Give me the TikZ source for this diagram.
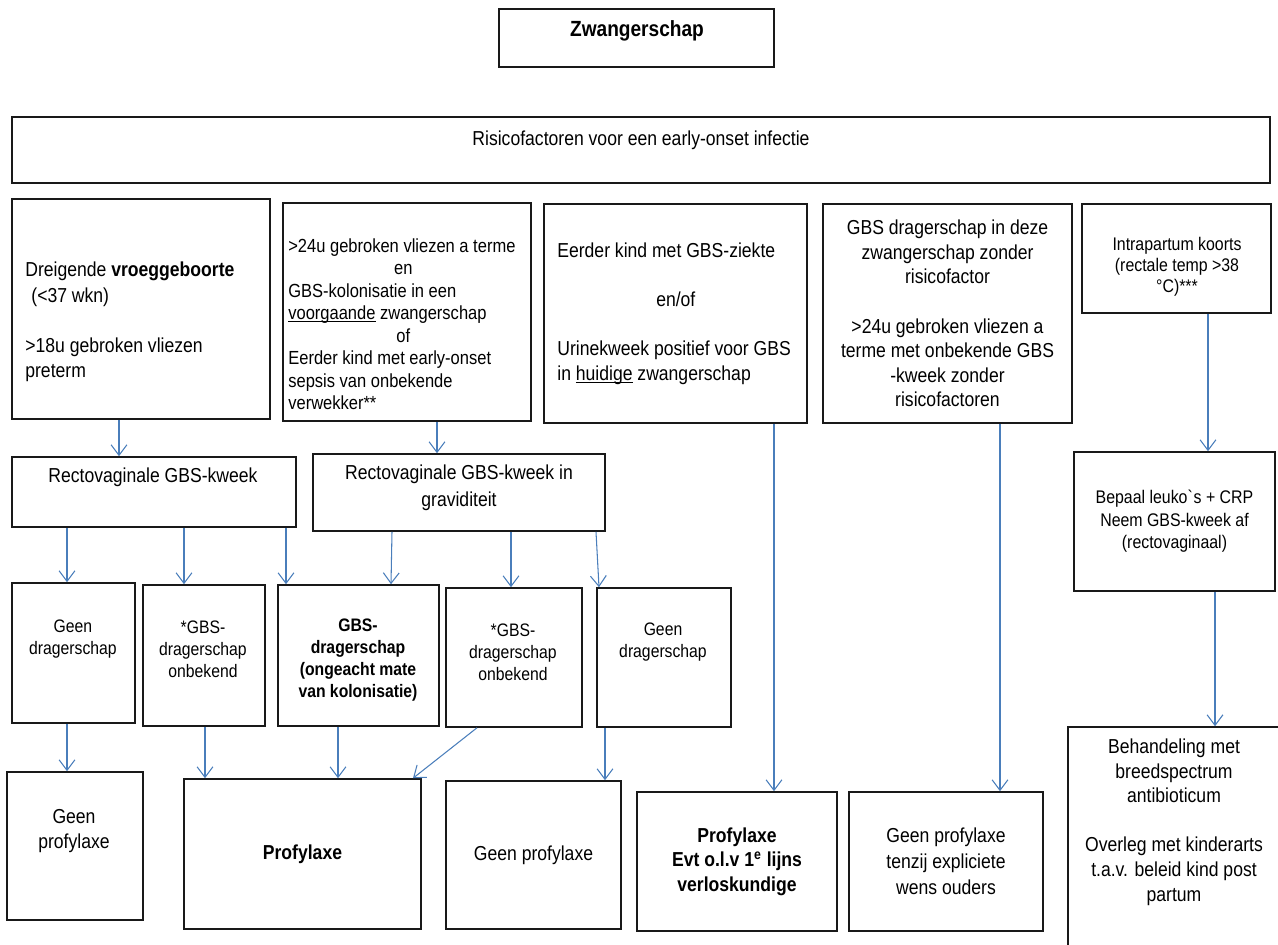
\documentclass[tikz,border=0pt]{standalone}
\usepackage{fontspec}
\setmainfont{Liberation Sans}[FakeStretch=0.87]
\usepackage{tikz}
\usetikzlibrary{arrows.meta}
\usetikzlibrary{positioning}
\definecolor{flowblue}{RGB}{74,126,187}
\tikzstyle{box}=[draw=black!90,line width=0.9pt,inner sep=0pt,align=center]
\tikzstyle{lbl}=[inner sep=0pt,align=center]
\tikzstyle{flow}=[draw=flowblue,line width=0.6pt,-{Straight Barb[length=6pt,width=9pt]}]
\newcommand{\fsz}[2]{\fontsize{#1}{#2}\selectfont}
\newcommand{\wordline}[1]{\setbox0\hbox{#1}\rlap{\rule[-1.6pt]{\wd0}{0.5pt}}#1}

\begin{document}
\begin{tikzpicture}[x=0.02cm,y=-0.02cm,font=\fsz{11.5}{14}]
\useasboundingbox (0,0) rectangle (1278,945);
\clip (0,0) rectangle (1278,945);

% kop
\node[box,minimum width=5.5cm,minimum height=1.16cm] (zw) at (636.5,38) {};
\node[lbl,font=\fsz{12.5}{15}\bfseries] (zwtxt) at (637,31) {Zwangerschap};
\node[box,minimum width=25.16cm,minimum height=1.32cm] (risk) at (641,150) {};
\node[lbl] (risktxt) at (641,140) {Risicofactoren voor een early-onset infectie};

% risicofactoren
\node[box,minimum width=5.16cm,minimum height=4.4cm] (A) at (141,309) {};
\node[lbl,align=left,anchor=west,font=\fsz{11.5}{14.5}] (Atxt) at (25,322)
  {Dreigende \textbf{vroeggeboorte}\\\hspace*{0.3em}(<37 wkn)\\[14pt]>18u gebroken vliezen\\preterm};
\node[box,minimum width=4.96cm,minimum height=4.36cm] (B) at (407,312) {};
\node[lbl,align=left,anchor=west,font=\fsz{10.8}{12.8}] (Btxt) at (288,324)
  {>24u gebroken vliezen a terme\\\makebox[4.6cm]{en}\\GBS-kolonisatie in een\\
   \wordline{voorgaande} zwangerschap\\\makebox[4.6cm]{of}\\Eerder kind met early-onset\\
   sepsis van onbekende\\verwekker**};
\node[box,minimum width=5.26cm,minimum height=4.38cm] (C) at (675.5,313.5) {};
\node[lbl,align=left,anchor=west] (Ctxt) at (557,313.5)
  {Eerder kind met GBS-ziekte\\[14pt]\makebox[4.74cm]{en/of}\\[14pt]Urinekweek positief voor GBS\\
   in \wordline{huidige} zwangerschap};
\node[box,minimum width=4.98cm,minimum height=4.38cm] (D) at (947.5,313.5)
  {GBS dragerschap in deze\\zwangerschap zonder\\risicofactor\\[14pt]>24u gebroken vliezen a\\
   terme met onbekende GBS\\-kweek zonder\\risicofactoren};
\node[box,minimum width=3.78cm,minimum height=2.18cm] (E) at (1176.5,258.5) {};
\node[lbl,font=\fsz{10.4}{11.8}] (Etxt) at (1177,267) {Intrapartum koorts\\(rectale temp >38\\°C)***};

% kweek
\node[box,minimum width=5.68cm,minimum height=1.4cm] (R1) at (154,492) {};
\node[lbl] (R1txt) at (153,477) {Rectovaginale GBS-kweek};
\node[box,minimum width=5.84cm,minimum height=1.54cm] (R2) at (459,492.5) {};
\node[lbl,font=\fsz{11.5}{15.3}] (R2txt) at (459,488) {Rectovaginale GBS-kweek in\\graviditeit};
\node[box,minimum width=4.02cm,minimum height=2.78cm,font=\fsz{10.4}{12.8}] (F) at (1174.5,521.5)
  {Bepaal leuko\textasciigrave s + CRP\\Neem GBS-kweek af\\(rectovaginaal)};

% dragerschap
\node[box,minimum width=2.46cm,minimum height=2.8cm] (K1) at (73.5,653) {};
\node[lbl,font=\fsz{10.3}{12.5}] (K1txt) at (73,639) {Geen\\dragerschap};
\node[box,minimum width=2.44cm,minimum height=2.82cm] (K2) at (204,655.5) {};
\node[lbl,font=\fsz{10.3}{12.5}] (K2txt) at (203,649) {*GBS-\\dragerschap\\onbekend};
\node[box,minimum width=3.22cm,minimum height=2.82cm] (K3) at (358.5,655.5) {};
\node[lbl,font=\fsz{10.3}{12.5}\bfseries] (K3txt) at (358,660) {GBS-\\dragerschap\\(ongeacht mate\\van kolonisatie)};
\node[box,minimum width=2.72cm,minimum height=2.78cm] (K4) at (514,657.5) {};
\node[lbl,font=\fsz{10.3}{12.5}] (K4txt) at (513,652) {*GBS-\\dragerschap\\onbekend};
\node[box,minimum width=2.68cm,minimum height=2.78cm] (K5) at (664,657.5) {};
\node[lbl,font=\fsz{10.3}{12.5}] (K5txt) at (663,642) {Geen\\dragerschap};

% beleid
\node[box,minimum width=2.72cm,minimum height=2.96cm] (P1) at (75,846) {};
\node[lbl] (P1txt) at (74,831) {Geen\\profylaxe};
\node[box,minimum width=4.74cm,minimum height=3cm,font=\fsz{11.5}{14}\bfseries] (P2) at (302.5,854) {Profylaxe};
\node[box,minimum width=3.5cm,minimum height=2.96cm] (P3) at (533.5,855) {Geen profylaxe};
\node[box,minimum width=4cm,minimum height=2.78cm,font=\fsz{11.5}{14}\bfseries] (P4) at (737,861.5)
  {Profylaxe\\Evt o.l.v 1\textsuperscript{e} lijns\\verloskundige};
\node[box,minimum width=3.88cm,minimum height=2.78cm,font=\fsz{11.5}{14.7}] (P5) at (946,861.5)
  {Geen profylaxe\\tenzij expliciete\\wens ouders};
\node[box,minimum width=4.24cm,minimum height=4.76cm] (G) at (1174,846) {};
\node[lbl] (Gtxt) at (1174,822) {Behandeling met\\breedspectrum\\antibioticum\\[14pt]Overleg met kinderarts\\
  t.a.v. beleid kind post\\partum};

% pijlen
\draw[flow] (A.south -| 119,0) -- (R1.north -| 119,0);
\draw[flow] (B.south -| 437,0) -- (R2.north -| 437,0);
\draw[flow] (R1.south -| 67,0) -- (K1.north -| 67,0);
\draw[flow] (R1.south -| 184,0) -- (K2.north -| 184,0);
\draw[flow] (R1.south -| 286,0) -- (K3.north -| 286,0);
\draw[flow] (R2.south -| 392,0) -- (K3.north -| 391,0);
\draw[flow] (R2.south -| 511,0) -- (K4.north -| 511,0);
\draw[flow] (R2.south -| 596,0) -- (K5.north -| 599,0);
\draw[flow] (C.south -| 774,0) -- (P4.north -| 774,0);
\draw[flow] (D.south -| 1000,0) -- (P5.north -| 1000,0);
\draw[flow] (E.south -| 1208,0) -- (F.north -| 1208,0);
\draw[flow] (F.south -| 1215,0) -- (G.north -| 1215,0);
\draw[flow] (K1.south -| 67,0) -- (P1.north -| 67,0);
\draw[flow] (K2.south -| 205,0) -- (P2.north -| 205,0);
\draw[flow] (K3.south -| 338,0) -- (P2.north -| 338,0);
\draw[flow] (K4.south -| 477,0) -- (P2.north -| 413,0);
\draw[flow] (K5.south -| 605,0) -- (P3.north -| 605,0);
\end{tikzpicture}
\end{document}
